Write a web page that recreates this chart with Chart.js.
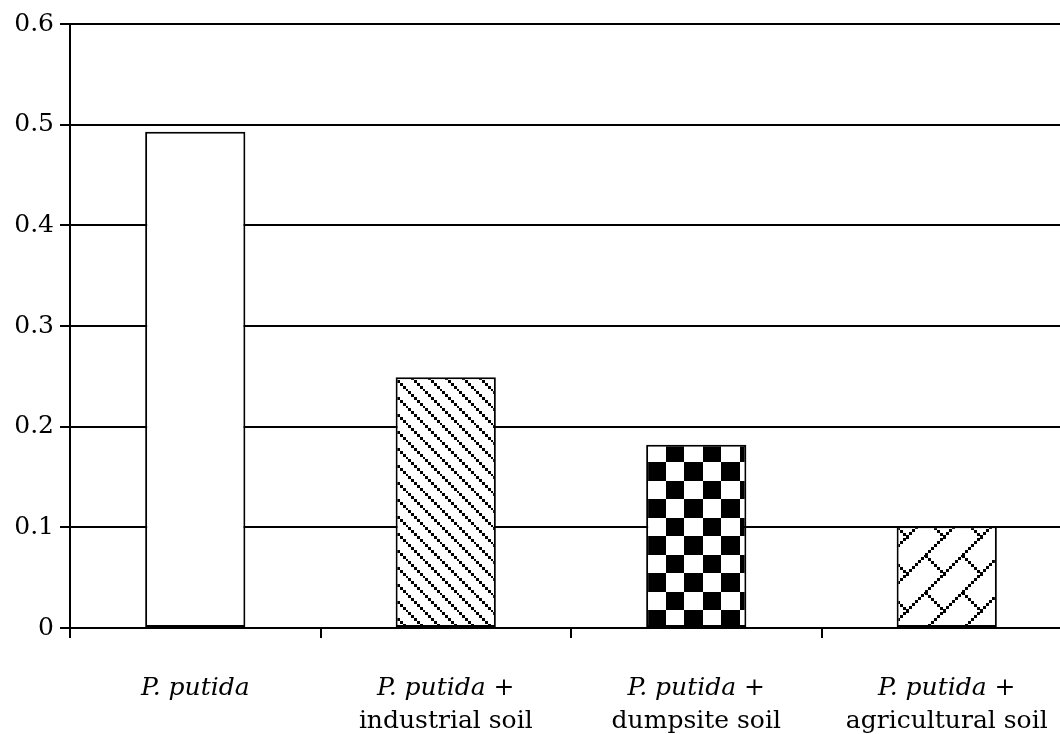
<!DOCTYPE html>
<html lang="en">
<head>
  <meta charset="UTF-8" />
  <title>P. putida bar chart</title>
  <script src="https://cdn.jsdelivr.net/npm/chart.js"></script>
  <style>
    html, body { margin: 0; padding: 0; background: #fff; overflow: hidden; }
    canvas { display: block; }
  </style>
</head>
<body>
  <canvas id="chart" width="1072" height="734"></canvas>
  <script>
    // data
    const categories = ["P. putida", "P. putida + industrial soil", "P. putida + dumpsite soil", "P. putida + agricultural soil"];
    const labelItalic = ["P. putida", "P. putida", "P. putida", "P. putida"];
    const labelSuffix = ["", " +", " +", " +"];
    const labelSecond = ["", "industrial soil", "dumpsite soil", "agricultural soil"];
    const values = [0.493, 0.249, 0.182, 0.101];
    const yTicks = [0, 0.1, 0.2, 0.3, 0.4, 0.5, 0.6];

    const FONT = "'DejaVu Serif', 'Liberation Serif', serif";
    const FSIZE = 25;

    function makeTile(size, draw) {
      const c = document.createElement("canvas");
      c.width = size; c.height = size;
      const g = c.getContext("2d");
      g.fillStyle = "#fff";
      g.fillRect(0, 0, size, size);
      g.fillStyle = "#000";
      draw(g, size);
      return document.getElementById("chart").getContext("2d").createPattern(c, "repeat");
    }

    // diagonal dashed lines (top-left to bottom-right)
    const diagPattern = makeTile(17, (g, s) => {
      for (let i = 0; i < s; i += 3) {
        g.fillRect(i, i, 3, 3);
      }
    });

    // checkerboard
    const checkPattern = makeTile(37, (g, s) => {
      g.fillRect(0, 0, 18, 18);
      g.fillRect(18, 18, 19, 19);
    });

    // dotted lattice
    const latticePattern = makeTile(37, (g, s) => {
      for (let i = 0; i < s; i += 3) {
        g.fillRect(i, s - 2 - i, 3, 3);
      }
      for (let i = 0; i < s / 2; i += 3) {
        g.fillRect(i, i, 3, 3);
      }
    });

    const fills = ["#ffffff", diagPattern, checkPattern, latticePattern];

    const xLabels = {
      id: "xLabels",
      afterDraw(chart) {
        const ctx = chart.ctx;
        const x = chart.scales.x;
        ctx.save();
        ctx.fillStyle = "#000";
        ctx.textBaseline = "alphabetic";
        categories.forEach((c, i) => {
          const cx = x.getPixelForValue(i);
          ctx.font = "italic " + FSIZE + "px " + FONT;
          const w1 = ctx.measureText(labelItalic[i]).width;
          ctx.font = FSIZE + "px " + FONT;
          const w2 = ctx.measureText(labelSuffix[i]).width;
          let left = cx - (w1 + w2) / 2;
          ctx.textAlign = "left";
          ctx.font = "italic " + FSIZE + "px " + FONT;
          ctx.fillText(labelItalic[i], left, 695);
          ctx.font = FSIZE + "px " + FONT;
          ctx.fillText(labelSuffix[i], left + w1, 695);
          if (labelSecond[i]) {
            ctx.textAlign = "center";
            ctx.fillText(labelSecond[i], cx, 728);
          }
        });
        ctx.restore();
      }
    };

    new Chart(document.getElementById("chart"), {
      type: "bar",
      data: {
        labels: categories,
        datasets: [{
          data: values,
          backgroundColor: fills,
          borderColor: "#000",
          borderWidth: 2,
          borderSkipped: false,
          barPercentage: 0.4,
          categoryPercentage: 1.0
        }]
      },
      options: {
        responsive: false,
        animation: false,
        layout: { padding: { top: 24, left: 0, right: 0, bottom: 0 } },
        plugins: { legend: { display: false }, tooltip: { enabled: false } },
        scales: {
          x: {
            afterFit: s => { s.height = 106; },
            ticks: { display: false },
            grid: {
              offset: true,
              drawOnChartArea: false,
              drawTicks: true,
              tickLength: 10,
              color: "#000",
              lineWidth: 2
            },
            border: { display: true, color: "#000", width: 2 }
          },
          y: {
            min: 0,
            max: 0.6,
            afterFit: s => { s.width = 70; },
            afterBuildTicks: s => { s.ticks = yTicks.map(v => ({ value: v })); },
            ticks: {
              color: "#000",
              padding: 6,
              font: { family: FONT, size: FSIZE },
              callback: v => v === 0 ? "0" : v.toFixed(1)
            },
            grid: { color: "#000", lineWidth: 2, tickLength: 10 },
            border: { display: true, color: "#000", width: 2 }
          }
        }
      },
      plugins: [xLabels]
    });
  </script>
</body>
</html>
